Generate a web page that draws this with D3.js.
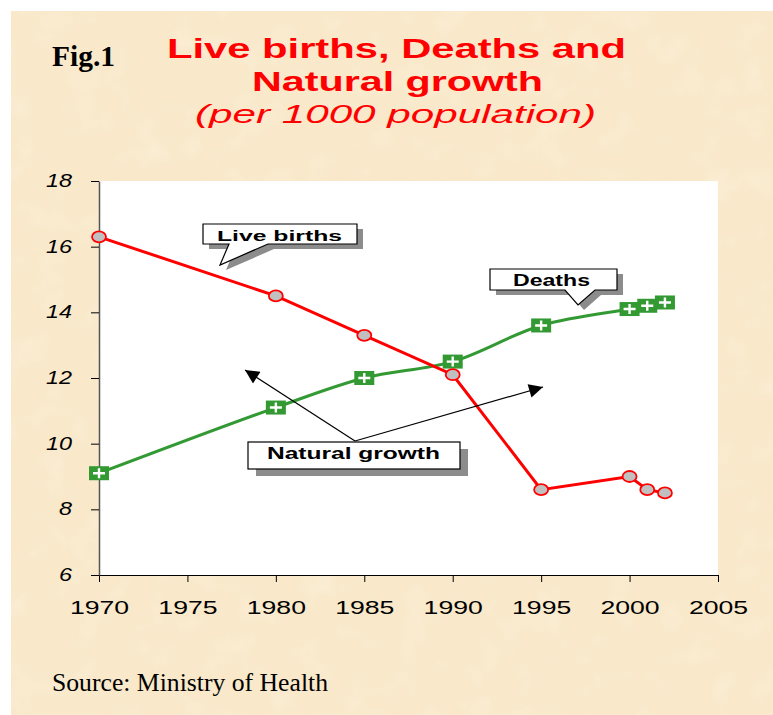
<!DOCTYPE html>
<html>
<head>
<meta charset="utf-8">
<script src="https://cdn.jsdelivr.net/npm/d3@7"></script>
<style>
  html, body { margin: 0; padding: 0; background: #fff; }
  svg { display: block; }
</style>
</head>
<body>
<div id="chart"></div>
<script>
const years = [1970, 1980, 1985, 1990, 1995, 2000, 2001, 2002];
const liveBirths = [16.3, 14.5, 13.3, 12.1, 8.6, 9.0, 8.6, 8.5];
const deaths = [9.1, 11.1, 12.0, 12.5, 13.6, 14.1, 14.2, 14.3];
const xTicks = [1970, 1975, 1980, 1985, 1990, 1995, 2000, 2005];
const yTicks = [6, 8, 10, 12, 14, 16, 18];

(function () {
  const W = 773, H = 715;
  const plot = { left: 99, right: 718, top: 181, bottom: 575 };
  const stretch = 1.4; // text in the picture is drawn wide

  const svg = d3.select("#chart").append("svg")
    .attr("width", W).attr("height", H);

  // paper texture
  const defs = svg.append("defs");
  const f = defs.append("filter").attr("id", "paper")
    .attr("x", 0).attr("y", 0).attr("width", "100%").attr("height", "100%");
  f.append("feTurbulence").attr("type", "fractalNoise")
    .attr("baseFrequency", 0.03).attr("numOctaves", 3).attr("seed", 7);
  f.append("feColorMatrix").attr("type", "matrix")
    .attr("values", "0 0 0 0 1  0 0 0 0 0.98  0 0 0 0 0.92  0 0 0 0.9 -0.4");
  f.append("feComposite").attr("in2", "SourceGraphic").attr("operator", "in");

  svg.append("rect").attr("x", 11).attr("y", 11)
    .attr("width", W - 11).attr("height", H - 11).attr("fill", "#f9e8c9");
  svg.append("rect").attr("x", 11).attr("y", 11)
    .attr("width", W - 11).attr("height", H - 11).attr("fill", "#f9e8c9")
    .attr("filter", "url(#paper)").attr("opacity", 0.55);

  // texts
  function txt(x, y, s, size, opts) {
    opts = opts || {};
    const t = svg.append("text").attr("x", x).attr("y", y).text(s)
      .attr("font-family", opts.family || "Liberation Sans, Arial, sans-serif")
      .attr("font-size", size)
      .attr("font-weight", opts.weight || "normal")
      .attr("font-style", opts.style || "normal")
      .attr("fill", opts.fill || "#000");
    if (opts.len) t.attr("textLength", opts.len).attr("lengthAdjust", "spacingAndGlyphs");
    return t;
  }
  txt(52, 66, "Fig.1", 29, { family: "Liberation Serif, Times New Roman, serif", weight: "bold", len: 63 });
  txt(167, 58, "Live births, Deaths and", 28, { weight: "bold", fill: "#ff0000", len: 459 });
  txt(252, 91, "Natural growth", 28, { weight: "bold", fill: "#ff0000", len: 291 });
  txt(195, 123, "(per 1000 population)", 25, { style: "italic", fill: "#ff0000", len: 401 });
  txt(52, 691, "Source: Ministry of Health", 26, { family: "Liberation Serif, Times New Roman, serif", len: 276 });

  // plot area
  svg.append("rect").attr("x", plot.left).attr("y", plot.top)
    .attr("width", plot.right - plot.left).attr("height", plot.bottom - plot.top)
    .attr("fill", "#fff");

  const x = d3.scaleLinear().domain([1970, 2005]).range([plot.left, plot.right]);
  const y = d3.scaleLinear().domain([6, 18]).range([plot.bottom, plot.top]);

  const gx = svg.append("g").attr("transform", `translate(0,${plot.bottom})`)
    .call(d3.axisBottom(x).tickValues(xTicks).tickFormat(d3.format("d")).tickSize(7).tickSizeOuter(0));
  gx.select(".domain").attr("stroke", "#000").attr("stroke-width", 1.2);
  gx.selectAll(".tick line").attr("stroke", "#000").attr("stroke-width", 1);
  gx.selectAll(".tick text").attr("font-family", "Liberation Sans, Arial, sans-serif")
    .attr("font-size", 19).attr("fill", "#000").attr("dy", "1.55em")
    .each(function () {
      const l = this.getComputedTextLength();
      d3.select(this).attr("textLength", l * stretch).attr("lengthAdjust", "spacingAndGlyphs");
    });

  const gy = svg.append("g").attr("transform", `translate(${plot.left},0)`)
    .call(d3.axisLeft(y).tickValues(yTicks).tickSize(8).tickSizeOuter(0));
  gy.select(".domain").attr("stroke", "#555").attr("stroke-width", 1.5);
  gy.selectAll(".tick line").attr("stroke", "#000").attr("stroke-width", 1);
  gy.selectAll(".tick text").attr("font-family", "Liberation Sans, Arial, sans-serif")
    .attr("font-size", 18).attr("font-style", "italic").attr("fill", "#000")
    .attr("x", -27).attr("dy", "0.3em")
    .each(function () {
      const l = this.getComputedTextLength();
      d3.select(this).attr("textLength", l * 1.3).attr("lengthAdjust", "spacingAndGlyphs");
    });

  // lines
  const birthPts = years.map((yr, i) => [yr, liveBirths[i]]);
  const deathPts = years.map((yr, i) => [yr, deaths[i]]);

  svg.append("path").datum(deathPts)
    .attr("fill", "none").attr("stroke", "#339933").attr("stroke-width", 3)
    .attr("d", d3.line().x(d => x(d[0])).y(d => y(d[1])).curve(d3.curveCatmullRom.alpha(0.5)));
  svg.append("path").datum(birthPts)
    .attr("fill", "none").attr("stroke", "#ff0000").attr("stroke-width", 3)
    .attr("d", d3.line().x(d => x(d[0])).y(d => y(d[1])));

  // death markers
  const dm = svg.append("g").selectAll("g").data(deathPts).enter().append("g")
    .attr("transform", d => `translate(${x(d[0])},${y(d[1])})`);
  dm.append("rect").attr("x", -10).attr("y", -7).attr("width", 20).attr("height", 14)
    .attr("fill", "#339933");
  dm.append("path").attr("d", "M-6,0H6M0,-5V5")
    .attr("stroke", "#fff").attr("stroke-width", 2.4);

  // birth markers
  svg.append("g").selectAll("ellipse").data(birthPts).enter().append("ellipse")
    .attr("cx", d => x(d[0])).attr("cy", d => y(d[1]))
    .attr("rx", 7).attr("ry", 5.5)
    .attr("fill", "#c0c0c0").attr("stroke", "#ff0000").attr("stroke-width", 1.8);

  // callouts
  function callout(pathD, dx, dy) {
    svg.append("path").attr("d", pathD).attr("fill", "#8c8c8c")
      .attr("transform", `translate(${dx},${dy})`);
    svg.append("path").attr("d", pathD).attr("fill", "#fff")
      .attr("stroke", "#000").attr("stroke-width", 1.2);
  }
  callout("M203,224H357V244H268L220,265L229,244H203Z", 6, 5);
  txt(217, 241, "Live births", 15, { weight: "bold", len: 125 });

  callout("M490,269H617V290H595L578,305L565,290H490Z", 6, 5);
  txt(513, 286, "Deaths", 16, { weight: "bold", len: 77 });

  // natural growth arrows
  defs.append("marker").attr("id", "arrow").attr("viewBox", "0 0 10 10")
    .attr("refX", 10).attr("refY", 5).attr("markerWidth", 22).attr("markerHeight", 14)
    .attr("markerUnits", "userSpaceOnUse").attr("orient", "auto")
    .append("path").attr("d", "M0,0L10,5L0,10Z").attr("fill", "#000");
  svg.append("line").attr("x1", 355).attr("y1", 441).attr("x2", 245).attr("y2", 370)
    .attr("stroke", "#000").attr("stroke-width", 1.2).attr("marker-end", "url(#arrow)");
  svg.append("line").attr("x1", 355).attr("y1", 441).attr("x2", 543).attr("y2", 387)
    .attr("stroke", "#000").attr("stroke-width", 1.2).attr("marker-end", "url(#arrow)");

  svg.append("rect").attr("x", 256).attr("y", 449).attr("width", 212).attr("height", 27)
    .attr("fill", "#8c8c8c");
  svg.append("rect").attr("x", 248).attr("y", 442).attr("width", 212).attr("height", 27)
    .attr("fill", "#fff").attr("stroke", "#000").attr("stroke-width", 1.2);
  txt(267, 459, "Natural growth", 16, { weight: "bold", len: 173 });
})();
</script>
</body>
</html>
